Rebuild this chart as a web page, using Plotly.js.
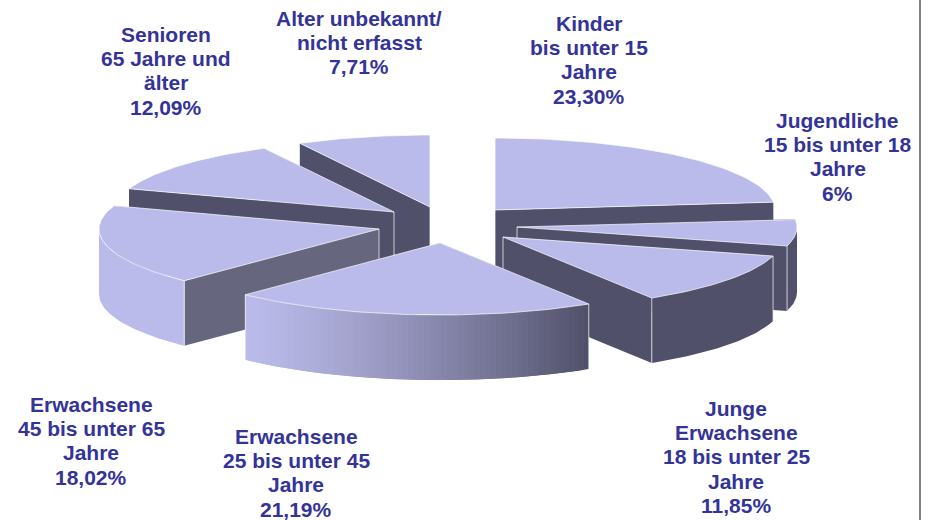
<!DOCTYPE html>
<html>
<head>
<meta charset="utf-8">
<script src="https://cdn.plot.ly/plotly-3.0.1.min.js"></script>
<style>html,body{margin:0;padding:0;background:#fff}#chart{width:934px;height:520px}</style>
</head>
<body>
<div id="chart"></div>
<script>
// --- chart values (clockwise from 12 o'clock) ---
var categories = [
  ["Kinder", "bis unter 15", "Jahre"],
  ["Jugendliche", "15 bis unter 18", "Jahre"],
  ["Junge", "Erwachsene", "18 bis unter 25", "Jahre"],
  ["Erwachsene", "25 bis unter 45", "Jahre"],
  ["Erwachsene", "45 bis unter 65", "Jahre"],
  ["Senioren", "65 Jahre und", "älter"],
  ["Alter unbekannt/", "nicht erfasst"]
];
var shares = [23.30, 6, 11.85, 21.19, 18.02, 12.09, 7.71];
var shareLabels = ["23,30%", "6%", "11,85%", "21,19%", "18,02%", "12,09%", "7,71%"];

// --- presentation: exploded slice apexes, ellipse, label anchors ---
var apexX = [495, 517, 503, 440, 379, 394, 430];
var apexY = [210, 227, 237, 243, 229, 212, 207];
var labelX = [589, 837.5, 736, 296, 91, 165.5, 359];
var labelY = [23, 120, 408, 436, 404, 34, 18];
var LINE_H = 24.4;
var drawOrder = [0, 6, 5, 1, 4, 2, 3];
var RX = 280, RY = 72, DEPTH = 65;
var TOP = "#BBBBEB", DARK = "#50506A", MID = "#66667F";
var cutColor = [DARK, DARK, DARK, DARK, MID, DARK, DARK];
var TEXT = "#333399";

function lerp(a, b, t) { return a + (b - a) * t; }
function gradColor(x) {
  var t = Math.pow(Math.max(0, Math.min(1, (x - 246) / 344)), 1.25);
  return "rgb(" + Math.round(lerp(187, 80, t)) + "," + Math.round(lerp(187, 80, t)) + "," + Math.round(lerp(235, 106, t)) + ")";
}
var total = shares.reduce(function (a, b) { return a + b; }, 0);
var traces = [];
function poly(xs, ys, color) {
  traces.push({ type: "scatter", mode: "lines", x: xs, y: ys, fill: "toself", fillcolor: color,
    line: { color: color, width: 0 }, hoverinfo: "skip", showlegend: false });
}
function edge(xs, ys, w) {
  traces.push({ type: "scatter", mode: "lines", x: xs, y: ys,
    line: { color: "rgba(255,255,255,0.7)", width: w || 1 }, hoverinfo: "skip", showlegend: false });
}
var cum = 0, starts = [], ends = [];
shares.forEach(function (v, i) {
  starts[i] = cum; cum += v / total * 2 * Math.PI; ends[i] = cum;
});
function rim(i, th) { return [apexX[i] + RX * Math.sin(th), apexY[i] - RY * Math.cos(th)]; }
function wall(p, q, color) { poly([p[0], q[0], q[0], p[0], p[0]], [p[1], q[1], q[1] + DEPTH, p[1] + DEPTH, p[1]], color); }
function arcWall(i, lo, hi, color) {
  var n = Math.max(2, Math.ceil((hi - lo) / 0.02)), xs = [], ys = [], k, r;
  for (k = 0; k <= n; k++) { r = rim(i, lerp(lo, hi, k / n)); xs.push(r[0]); ys.push(r[1]); }
  for (k = n; k >= 0; k--) { r = rim(i, lerp(lo, hi, k / n)); xs.push(r[0]); ys.push(r[1] + DEPTH); }
  xs.push(xs[0]); ys.push(ys[0]);
  poly(xs, ys, color);
}

drawOrder.forEach(function (i) {
  var a = starts[i], b = ends[i], ap = [apexX[i], apexY[i]];
  var ra = rim(i, a), rb = rim(i, b);
  // cut faces: back one first
  var first = ra[1] < rb[1] ? ra : rb, second = ra[1] < rb[1] ? rb : ra;
  wall(ap, first, cutColor[i]);
  wall(ap, second, cutColor[i]);
  edge([ap[0], ap[0]], [ap[1], ap[1] + DEPTH], 1);
  // outer wall: only the part facing the viewer
  var lo = Math.max(a, Math.PI / 2), hi = Math.min(b, 3 * Math.PI / 2);
  if (hi > lo) {
    if (i === 3) {
      // shaded wall: overlapping strips, each one painted over the previous
      var n = Math.ceil((hi - lo) / 0.02);
      for (var k = 0; k < n; k++) {
        var th0 = lerp(lo, hi, k / n);
        var th1 = lerp(lo, hi, Math.min(n, k + 2) / n);
        var mid = rim(i, lerp(lo, hi, (k + 0.5) / n));
        arcWall(i, th0, th1, gradColor(mid[0]));
      }
    } else {
      arcWall(i, lo, hi, i === 4 ? TOP : DARK);
    }
  }
  if (Math.cos(a) < 0) edge([ra[0], ra[0]], [ra[1], ra[1] + DEPTH], 1);
  if (Math.cos(b) < 0) edge([rb[0], rb[0]], [rb[1], rb[1] + DEPTH], 1);
  // top face
  var xs = [ap[0]], ys = [ap[1]];
  for (var k2 = 0; k2 <= 60; k2++) {
    var r = rim(i, lerp(a, b, k2 / 60));
    xs.push(r[0]); ys.push(r[1]);
  }
  xs.push(ap[0]); ys.push(ap[1]);
  poly(xs, ys, TOP);
  edge(xs, ys, 1);
});

var annotations = [];
categories.forEach(function (lines, i) {
  lines.concat([shareLabels[i]]).forEach(function (t, j) {
    annotations.push({ x: labelX[i], y: labelY[i] + j * LINE_H, xref: "x", yref: "y",
      xanchor: "center", yanchor: "middle", text: "<b>" + t + "</b>", showarrow: false, borderpad: 0,
      font: { family: "Liberation Sans, Arial, sans-serif", size: 21, color: TEXT } });
  });
});

var hidden = { visible: false, fixedrange: true };
Plotly.newPlot("chart", traces, {
  width: 934, height: 520, margin: { l: 0, r: 0, t: 0, b: 0 },
  paper_bgcolor: "#fff", plot_bgcolor: "#fff", showlegend: false,
  xaxis: Object.assign({ range: [0, 934] }, hidden),
  yaxis: Object.assign({ range: [520, 0] }, hidden),
  annotations: annotations,
  shapes: [{ type: "line", xref: "x", yref: "y", x0: 920, x1: 920, y0: 0, y1: 520, line: { color: "#808080", width: 2 } }]
}, { displayModeBar: false, staticPlot: true });
</script>
</body>
</html>
